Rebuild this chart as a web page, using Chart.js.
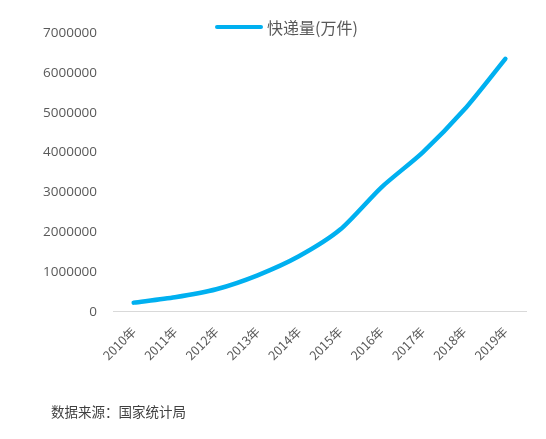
<!DOCTYPE html>
<html><head><meta charset="utf-8">
<script src="https://cdn.jsdelivr.net/npm/chart.js@4"></script>
<style>
html,body{margin:0;padding:0;background:#fff;}
#wrap{position:relative;width:546px;height:439px;}
#c{position:absolute;left:0;top:0;}
#legend{position:absolute;left:215px;top:16px;height:22px;display:flex;align-items:center;font:16px "Noto Sans CJK SC",sans-serif;color:#595959;}
#legend .sw{display:inline-block;width:48px;height:4px;border-radius:2px;background:#00B0F0;margin-right:4px;}
#src{position:absolute;left:51px;top:402px;font:13.5px "Noto Sans CJK SC",sans-serif;color:#404040;line-height:18px;}
</style></head>
<body><div id="wrap"><canvas id="c" width="546" height="439"></canvas>
<div id="legend"><span class="sw"></span><span id="legtext"></span></div>
<div id="src">数据来源：国家统计局</div></div>
<script>
const categories = ["2010年","2011年","2012年","2013年","2014年","2015年","2016年","2017年","2018年","2019年"];
const deliveryVolume = [233892,367311,568548,918675,1395925,2066637,3128315,4005591,5071043,6352291];
const seriesName = "快递量(万件)";
const yMin = 0, yMax = 7000000, yStep = 1000000;
document.getElementById('legtext').textContent = seriesName;

new Chart(document.getElementById('c'), {
  type: 'line',
  data: { labels: categories, datasets: [{
    label: seriesName, data: deliveryVolume,
    borderColor: '#00B0F0', backgroundColor: '#00B0F0',
    borderWidth: 4.5, pointRadius: 0, tension: 0.25, borderCapStyle: 'round', borderJoinStyle: 'round'
  }]},
  options: {
    responsive: false, animation: false, devicePixelRatio: 1,
    layout: { padding: { left: 27, right: 20, top: 33, bottom: 64 } },
    plugins: { tooltip: { enabled: false }, legend: { display: false } },
    scales: {
      x: { offset: true, grid: { display: false, drawTicks: false }, border: { color: '#D9D9D9', width: 1 },
        ticks: { minRotation: 45, maxRotation: 45, color: '#595959', padding: 12,
          font: { size: 12.5, family: '"Noto Sans CJK SC", sans-serif' } } },
      y: { min: yMin, max: yMax, grid: { display: false, drawTicks: false }, border: { display: false },
        ticks: { stepSize: yStep, color: '#595959', padding: 16,
          callback: v => String(v),
          font: { size: 13.5, family: '"Open Sans", sans-serif' } } }
    }
  }
});
</script></body></html>
